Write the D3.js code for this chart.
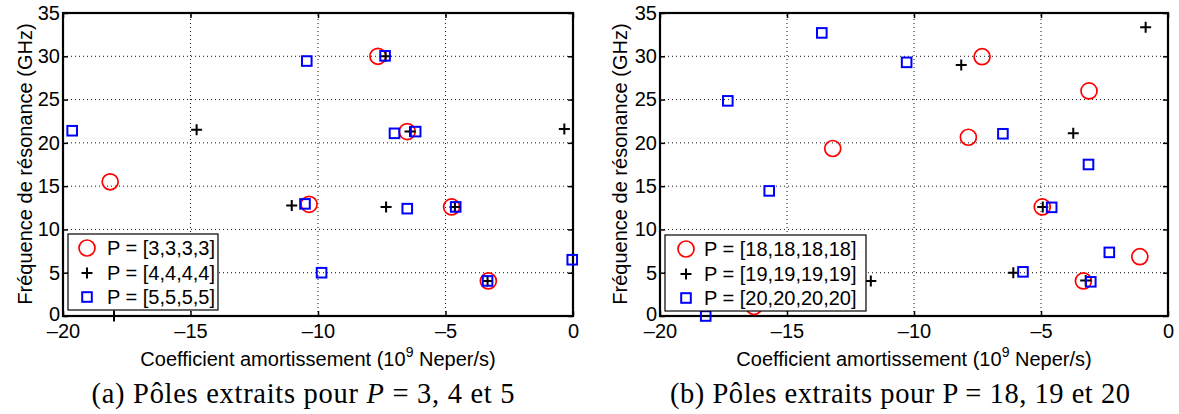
<!DOCTYPE html>
<html><head><meta charset="utf-8">
<script src="https://cdn.jsdelivr.net/npm/d3@7/dist/d3.min.js"></script>
<style>
html,body{margin:0;padding:0;background:#fff;}
svg{display:block;}
</style></head>
<body>
<svg id="chart" width="1179" height="414"></svg>
<script>
// ---------- data ----------
const xTicks = [-20, -15, -10, -5, 0];
const yTicks = [0, 5, 10, 15, 20, 25, 30, 35];

// Panel (a)
const circlesA = [[-18.15,15.5],[-7.65,30.0],[-6.5,21.3],[-10.35,12.9],[-4.76,12.6],[-3.32,4.05]];
const plusA    = [[-14.76,21.5],[-7.35,30.0],[-6.39,21.3],[-0.34,21.6],[-11.03,12.75],[-7.33,12.6],[-4.63,12.6],[-3.35,4.05],[-18.0,0]];
const squaresA = [[-19.64,21.4],[-10.44,29.45],[-7.37,30.05],[-7.0,21.1],[-6.17,21.3],[-10.51,12.95],[-6.5,12.4],[-4.6,12.6],[-9.86,5.0],[-3.35,4.05],[-0.03,6.5]];
const legendA  = ["P = [3,3,3,3]", "P = [4,4,4,4]", "P = [5,5,5,5]"];

// Panel (b)
const circlesB = [[-13.2,19.35],[-7.32,29.95],[-3.11,26.0],[-7.86,20.65],[-4.95,12.6],[-3.33,4.05],[-1.11,6.85],[-16.3,1.1]];
const plusB    = [[-0.88,33.35],[-8.14,29.0],[-3.73,21.1],[-4.93,12.6],[-6.09,5.0],[-3.24,4.1],[-11.7,4.05]];
const squaresB = [[-17.33,24.85],[-13.63,32.7],[-15.7,14.45],[-10.29,29.3],[-6.5,21.05],[-3.13,17.5],[-4.58,12.55],[-5.71,5.1],[-3.04,3.95],[-2.31,7.35],[-18.2,0]];
const legendB  = ["P = [18,18,18,18]", "P = [19,19,19,19]", "P = [20,20,20,20]"];

const xLabel = "Coefficient amortissement (10";
const xLabelSup = "9";
const xLabelEnd = " Neper/s)";
const yLabel = "Fréquence de résonance (GHz)";

// ---------- drawing ----------
const svg = d3.select("#chart");
const SANS = "'Liberation Sans', Arial, Helvetica, sans-serif";
const SERIF = "'Liberation Serif', 'Times New Roman', serif";
const fmt = d => d < 0 ? "\u2013" + Math.abs(d) : String(d);

function panel(cfg) {
  const x = d3.scaleLinear().domain([-20, 0]).range([cfg.x0, cfg.x1]);
  const y = d3.scaleLinear().domain([0, 35]).range([316, 13]);
  const g = svg.append("g");

  // grid
  g.append("g").selectAll("line").data(xTicks.slice(1, -1)).join("line")
    .attr("x1", d => x(d)).attr("x2", d => x(d)).attr("y1", y(0)).attr("y2", y(35))
    .attr("stroke", "#111").attr("stroke-width", 1).attr("stroke-dasharray", "1,3");
  g.append("g").selectAll("line").data(yTicks.slice(1, -1)).join("line")
    .attr("y1", d => y(d)).attr("y2", d => y(d)).attr("x1", x(-20)).attr("x2", x(0))
    .attr("stroke", "#111").attr("stroke-width", 1).attr("stroke-dasharray", "1,3");

  // axes
  const axB = g.append("g").attr("transform", `translate(0,${y(0)})`)
    .call(d3.axisBottom(x).tickValues(xTicks).tickSize(-5).tickSizeOuter(0).tickPadding(8).tickFormat(fmt));
  const axT = g.append("g").attr("transform", `translate(0,${y(35)})`)
    .call(d3.axisTop(x).tickValues(xTicks).tickSize(-5).tickSizeOuter(0).tickFormat(""));
  const axL = g.append("g").attr("transform", `translate(${x(-20)},0)`)
    .call(d3.axisLeft(y).tickValues(yTicks).tickSize(-5).tickSizeOuter(0).tickPadding(3).tickFormat(d3.format("d")));
  const axR = g.append("g").attr("transform", `translate(${x(0)},0)`)
    .call(d3.axisRight(y).tickValues(yTicks).tickSize(-5).tickSizeOuter(0).tickFormat(""));
  [axB, axT, axL, axR].forEach(a => {
    a.select(".domain").remove();
    a.selectAll(".tick line").attr("stroke", "#000").attr("stroke-width", 1.5);
    a.selectAll("text").attr("font-family", SANS).attr("font-size", 20).attr("fill", "#000");
  });
  // "0" label on the y axis sits slightly higher, as in the reference
  axL.selectAll(".tick").filter(d => d === 0).select("text").attr("dy", "0.2em");

  // frame
  g.append("rect").attr("x", x(-20)).attr("y", y(35))
    .attr("width", x(0) - x(-20)).attr("height", y(0) - y(35))
    .attr("fill", "none").attr("stroke", "#000").attr("stroke-width", 2.2);

  // markers
  const mk = g.append("g");
  function circle(sel) { sel.attr("r", 8).attr("fill", "none").attr("stroke", "#f00").attr("stroke-width", 1.7); }
  function plus(sel) { sel.attr("d", "M-5.5,0H5.5M0,-5.5V5.5").attr("fill", "none").attr("stroke", "#000").attr("stroke-width", 2); }
  function square(sel) { sel.attr("x", -4.8).attr("y", -4.8).attr("width", 9.6).attr("height", 9.6).attr("fill", "none").attr("stroke", "#00f").attr("stroke-width", 2); }

  mk.append("g").selectAll("circle").data(cfg.circles).join("circle")
    .attr("cx", d => x(d[0])).attr("cy", d => y(d[1])).call(circle);
  mk.append("g").selectAll("path").data(cfg.plus).join("path")
    .attr("transform", d => `translate(${x(d[0])},${y(d[1])})`).call(plus);
  mk.append("g").selectAll("rect").data(cfg.squares).join("rect")
    .attr("transform", d => `translate(${x(d[0])},${y(d[1])})`).call(square);

  // legend
  const L = cfg.legend;
  const lg = g.append("g");
  lg.append("rect").attr("x", L.x).attr("y", L.y).attr("width", L.w).attr("height", L.h)
    .attr("fill", "#fff").attr("stroke", "#000").attr("stroke-width", 1.2);
  const rows = [L.y + 14, L.y + 39, L.y + 63];
  lg.append("circle").attr("cx", L.mx).attr("cy", rows[0]).call(circle);
  lg.append("path").attr("transform", `translate(${L.mx},${rows[1]})`).call(plus);
  lg.append("rect").attr("transform", `translate(${L.mx},${rows[2]})`).call(square);
  lg.selectAll("text").data(cfg.legendText).join("text")
    .attr("x", L.tx).attr("y", (d, i) => rows[i] + 7)
    .attr("font-family", SANS).attr("font-size", 20).attr("fill", "#000").text(d => d);

  // axis labels
  const xl = g.append("text").attr("x", (cfg.x0 + cfg.x1) / 2).attr("y", 366)
    .attr("text-anchor", "middle").attr("font-family", SANS).attr("font-size", 20).attr("fill", "#000");
  xl.append("tspan").text(xLabel);
  xl.append("tspan").attr("dy", -9).attr("font-size", 14).text(xLabelSup);
  xl.append("tspan").attr("dy", 9).text(xLabelEnd);

  g.append("text").attr("transform", `translate(${cfg.ylx},164) rotate(-90)`)
    .attr("text-anchor", "middle").attr("font-family", SANS).attr("font-size", 20).attr("fill", "#000")
    .text(yLabel);

  // caption
  const cap = g.append("text").attr("x", cfg.capX).attr("y", 403)
    .attr("text-anchor", "middle").attr("font-family", SERIF).attr("font-size", 28.5).attr("fill", "#000")
    .attr("textLength", cfg.capW).attr("lengthAdjust", "spacing");
  cfg.caption.forEach(p => {
    const t = cap.append("tspan").text(p.t);
    if (p.i) t.attr("font-style", "italic");
  });
}

panel({
  x0: 63, x1: 573, circles: circlesA, plus: plusA, squares: squaresA,
  legend: {x: 68, y: 234, w: 150, h: 76, mx: 87, tx: 107},
  legendText: legendA, ylx: 32, capX: 303, capW: 423,
  caption: [{t: "(a) Pôles extraits pour "}, {t: "P", i: true}, {t: " = 3, 4 et 5"}]
});
panel({
  x0: 660, x1: 1168, circles: circlesB, plus: plusB, squares: squaresB,
  legend: {x: 665, y: 235, w: 201, h: 76, mx: 686, tx: 704},
  legendText: legendB, ylx: 627, capX: 900, capW: 460,
  caption: [{t: "(b) Pôles extraits pour P = 18, 19 et 20"}]
});
</script>
</body></html>
